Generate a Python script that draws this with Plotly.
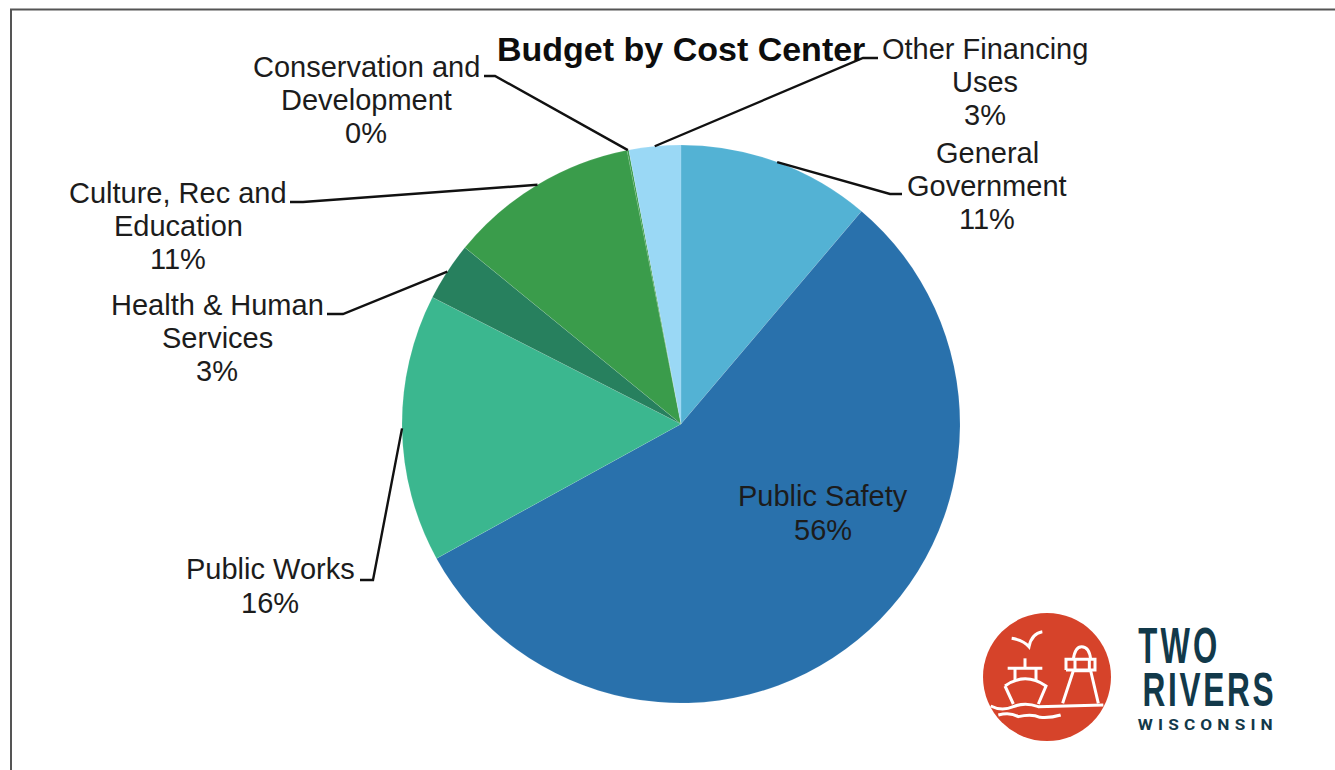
import math
import plotly.graph_objects as go

W, H = 1335, 770

categories = ["General Government", "Public Safety", "Public Works", "Health & Human Services",
              "Culture, Rec and Education", "Conservation and Development", "Other Financing Uses"]
values = [11.2, 55.8, 15.5, 3.4, 11.0, 0.1, 3.0]
shown_pct = ["11%", "56%", "16%", "3%", "11%", "0%", "3%"]
colors = ["#53B2D4", "#2971AC", "#3BB78F", "#27805E", "#3A9C4B", "#3A9C4B", "#9AD8F5"]
label_lines = [["General", "Government"], ["Public Safety"], ["Public Works"],
               ["Health & Human", "Services"], ["Culture, Rec and", "Education"],
               ["Conservation and", "Development"], ["Other Financing", "Uses"]]
label_pos = [(987, 186), (823, 513), (270, 586), (217, 338), (178, 226), (366, 100), (985, 82)]
leader_elbow = [[(890, 194), (902, 194)], None, [(373, 580), (360, 580)], [(343, 314), (327, 314)],
                [(303, 202), (290, 202)], [(495, 76), (484, 76)], [(863, 58), (878, 58)]]

CX, CY, R = 681, 424, 279
FONT = "Liberation Sans"
INK = "#1c1c1c"
ORANGE = "#D6432A"
NAVY = "#12394A"
LINE_STEP = 33.3


def px(x, y):
    return x / W, 1 - y / H


def logo_path(points):
    """points in reference-zoom units: offset (960,600), scale 1/3"""
    out = []
    for cmd, *pts in points:
        s = cmd
        for (x, y) in pts:
            u, v = px(960 + x / 3, 600 + y / 3)
            s += f" {u:.5f},{v:.5f}"
        out.append(s)
    return " ".join(out)


fig = go.Figure(go.Pie(
    labels=categories, values=values, sort=False, direction="clockwise", rotation=0,
    marker=dict(colors=colors, line=dict(color="rgba(255,255,255,0.25)", width=0.4)),
    textinfo="none", hoverinfo="label+percent", showlegend=False,
    domain=dict(x=[(CX - R) / W, (CX + R) / W], y=[1 - (CY + R) / H, 1 - (CY - R) / H]),
))

shapes = []
annotations = []


def line_path(pts, color=INK, width=2):
    d = "M " + " L ".join("{:.5f},{:.5f}".format(*px(*p)) for p in pts)
    shapes.append(dict(type="path", path=d, xref="paper", yref="paper",
                       line=dict(color=color, width=width)))


# frame
line_path([(11, 770), (11, 9.5), (1335, 9.5)], color="#555555", width=2)

# leaders anchored on the slice midpoints; one annotation per text line for exact leading
total = sum(values)
cum = 0
for i, v in enumerate(values):
    mid = (cum + v / 2) / total * 2 * math.pi
    cum += v
    if leader_elbow[i]:
        anchor = (CX + R * math.sin(mid), CY - R * math.cos(mid))
        line_path([anchor] + leader_elbow[i], color="#111111", width=2.4)
    lines = label_lines[i] + [shown_pct[i]]
    for k, ln in enumerate(lines):
        lx = label_pos[i][0]
        ly = label_pos[i][1] + (k - (len(lines) - 1) / 2) * LINE_STEP
        x, y = px(lx, ly)
        annotations.append(dict(
            text=ln, x=x, y=y, xref="paper", yref="paper",
            xanchor="center", yanchor="middle", align="center", showarrow=False,
            font=dict(family=FONT, size=29, color=INK)))

# title
x, y = px(681, 49)
annotations.append(dict(text="<b>Budget by Cost Center</b>", x=x, y=y, xref="paper", yref="paper",
                        xanchor="center", yanchor="middle", showarrow=False,
                        font=dict(family=FONT, size=34, color="#0d0d0d")))

# logo roundel
x0, y0 = px(983, 741)
x1, y1 = px(1111, 613)
shapes.append(dict(type="circle", xref="paper", yref="paper", x0=x0, y0=y0, x1=x1, y1=y1,
                   fillcolor=ORANGE, line=dict(width=0)))
logo_strokes = [
    [("M", (155, 115)), ("Q", (190, 120), (207, 140)), ("Q", (215, 100), (247, 95))],  # bird
    [("M", (195, 175)), ("L", (195, 205))],  # mast
    [("M", (143, 205)), ("L", (247, 205))],
    [("M", (165, 205)), ("L", (165, 240)), ("M", (228, 205)), ("L", (228, 240))],
    [("M", (135, 258)), ("Q", (195, 215), (258, 258)), ("L", (235, 312)), ("M", (135, 258)), ("L", (160, 312))],
    [("M", (92, 318)), ("Q", (125, 335), (160, 320)), ("Q", (195, 305), (235, 320)), ("L", (430, 315))],
    [("M", (115, 345)), ("Q", (150, 335), (175, 350)), ("Q", (215, 340), (240, 352)), ("Q", (270, 355), (302, 345))],
    [("M", (308, 310)), ("L", (340, 212)), ("L", (392, 212)), ("L", (415, 310))],
    [("M", (318, 210)), ("L", (318, 178)), ("L", (405, 178)), ("L", (405, 210)), ("L", (318, 210))],
    [("M", (340, 178)), ("Q", (345, 140), (365, 140)), ("Q", (388, 140), (392, 178))],
    [("M", (345, 178)), ("L", (345, 210)), ("M", (388, 178)), ("L", (388, 210))],
]
for stroke in logo_strokes:
    shapes.append(dict(type="path", path=logo_path(stroke), xref="paper", yref="paper",
                       line=dict(color="white", width=3)))

# logo wordmark: real text, tracked and squeezed afterwards to the condensed proportions
for txt, cx, cy, size, fam in [("<b>TWO</b>", 1179, 646, 50, FONT),
                               ("<b>RIVERS</b>", 1209, 689, 48, FONT),
                               ("<b>WISCONSIN</b>", 1208, 725, 15, "Roboto")]:
    x, y = px(cx, cy)
    annotations.append(dict(text=txt, x=x, y=y, xref="paper", yref="paper", xanchor="center",
                            yanchor="middle", showarrow=False, font=dict(family=fam, size=size, color=NAVY)))

fig.update_layout(width=W, height=H, margin=dict(l=0, r=0, t=0, b=0), paper_bgcolor="white",
                  plot_bgcolor="white", shapes=shapes, annotations=annotations)

post = """
document.body.style.margin='0';document.body.style.overflow='hidden';
var targets={'TWO':[79,5],'RIVERS':[131,4],'WISCONSIN':[135,4.5]};
document.querySelectorAll('.annotation-text').forEach(function(t){
  var g=targets[t.textContent]; if(!g) return;
  t.style.letterSpacing=g[1]+'px';
  var b=t.getBBox(), cx=b.x+b.width/2, s=g[0]/(b.width-g[1]);
  t.setAttribute('transform','translate('+cx+',0) scale('+s+',1) translate('+(-cx)+',0)');
});
"""
fig.write_html("out.html", post_script=post, config={"displayModeBar": False})
